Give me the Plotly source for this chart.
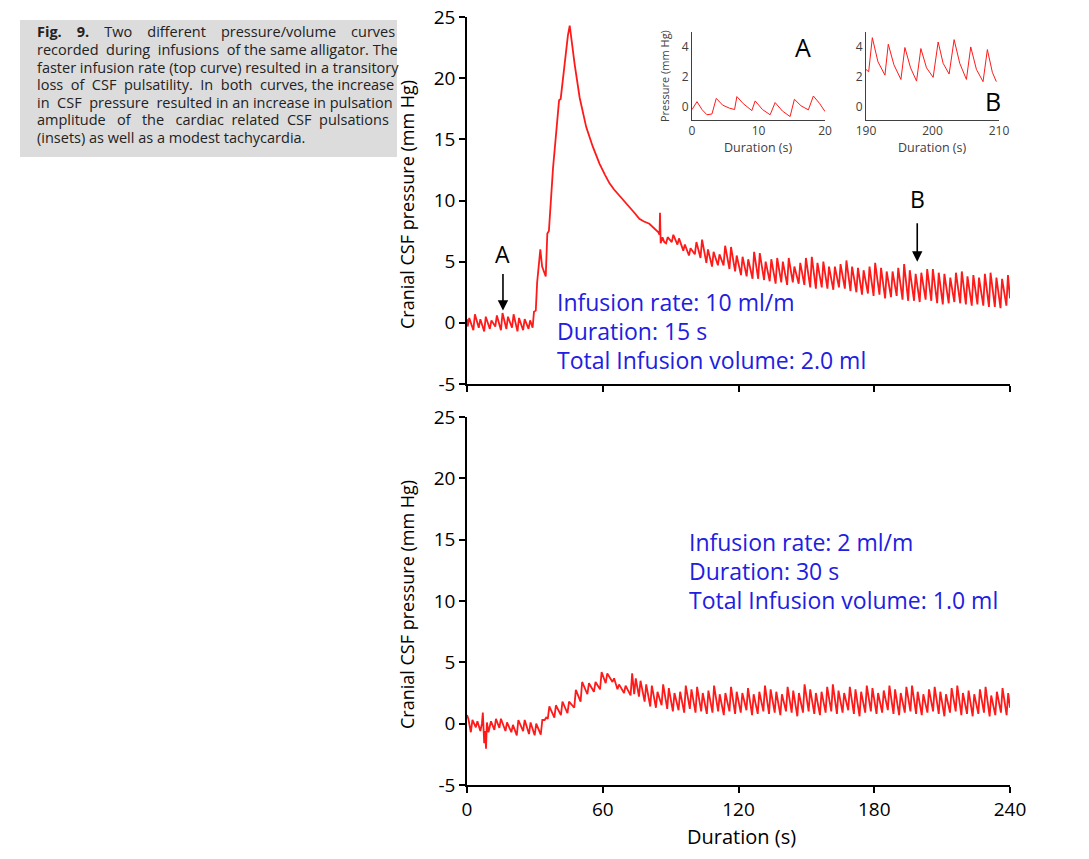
import plotly.graph_objects as go

W, H = 1089, 859
OFF = 8  # page body margin of the browser
FONT = "Open Sans"
RED = "#ff1a1a"
BLUE = "#2020e0"
NB = "\u00a0"

# ---------------- data: top curve (fast infusion) ----------------
top_start_t = [0.0]
top_start_p = [0.3]
# early pulsations (beat onset time, trough, peak)
top_beats1_t = [0.3, 2.8, 5.2, 7.6, 10.1, 12.5, 15.0, 17.4, 19.9, 22.3, 24.8, 27.2]
top_beats1_lo = [-0.3, -0.6, -0.4, -0.7, -0.5, -0.3, -0.6, -0.5, -0.4, -0.7, -0.6, -0.5]
top_beats1_hi = [0.4, 0.7, 0.3, 0.5, 0.2, 0.6, 0.8, 0.5, 0.7, 0.4, 0.3, 0.2]
# infusion ramp, peak and decay without pulsatility
top_ramp_t = [29.0, 29.6, 30.4, 31.0, 32.4, 33.2, 34.8, 35.5, 36.2, 38.0, 40.7, 41.4, 43.0, 44.6,
              45.4, 46.3, 47.6, 49.8, 52.7, 55.6, 58.6, 61.0, 63.0, 65.0, 67.4, 69.0, 70.2, 71.8,
              73.5, 76.2, 78.0, 80.6, 82.2, 83.5, 84.6, 85.1, 85.3, 85.6, 86.4, 87.2]
top_ramp_p = [-0.4, 0.9, 1.0, 3.3, 6.0, 4.6, 3.8, 7.3, 7.5, 12.6, 18.2, 18.3, 21.0, 23.5,
              24.3, 22.8, 21.1, 18.4, 16.0, 14.4, 13.0, 12.1, 11.4, 10.9, 10.4, 10.1, 9.8, 9.5,
              9.1, 8.5, 8.3, 8.1, 7.8, 7.6, 7.4, 7.2, 9.0, 6.5, 7.0, 6.6]
# returning pulsations
top_beats2_t = [88.0, 90.5, 93.0, 95.6, 98.1, 100.7, 103.2, 105.8, 108.3, 110.9, 113.4, 116.0,
                118.5, 121.1, 123.6, 126.2, 128.7, 131.3, 133.8, 136.4, 138.9, 141.5, 144.0,
                146.6, 149.1, 151.7, 154.2, 156.8, 159.3, 161.9, 164.4, 167.0, 169.5, 172.1,
                174.6, 177.2, 179.7, 182.3, 184.8, 187.4, 189.9, 192.5, 195.0, 197.6, 200.1,
                202.7, 205.2, 207.8, 210.3, 212.9, 215.4, 218.0, 220.5, 223.1, 225.6, 228.2,
                230.7, 233.3, 235.8, 238.4]
top_beats2_lo = [6.5, 6.6, 6.4, 5.9, 5.5, 5.6, 5.3, 4.9, 4.6, 4.7, 4.7, 4.4, 4.2, 3.9, 3.8, 3.6,
                 3.6, 3.5, 3.4, 3.2, 3.3, 3.1, 3.3, 3.2, 3.1, 2.9, 2.8, 2.9, 2.8, 2.7, 2.9, 2.8,
                 2.6, 2.5, 2.3, 2.4, 2.2, 2.3, 2.0, 2.1, 2.2, 1.9, 1.8, 1.8, 1.7, 1.9, 1.8, 1.6,
                 1.5, 1.6, 1.7, 1.6, 1.5, 1.4, 1.5, 1.4, 1.3, 1.3, 1.2, 1.4]
top_beats2_hi = [7.0, 7.2, 6.9, 6.4, 6.1, 6.6, 6.8, 6.0, 5.8, 5.6, 6.3, 6.2, 5.5, 5.4, 5.2, 5.8,
                 5.7, 5.0, 5.2, 5.3, 5.0, 5.3, 4.6, 4.9, 5.3, 5.4, 4.9, 5.0, 4.6, 4.6, 4.8, 5.1,
                 4.6, 4.5, 4.3, 4.6, 4.9, 4.5, 4.2, 4.2, 4.5, 4.8, 4.3, 4.0, 4.1, 4.4, 4.4, 4.1,
                 4.0, 3.7, 4.1, 4.2, 3.8, 3.9, 3.7, 4.0, 4.1, 3.7, 3.6, 3.9]
top_end_t = [240.0]
top_end_p = [2.0]

# ---------------- data: bottom curve (slow infusion) ----------------
bot_start_t = [0.0, 0.6, 1.7, 2.4, 3.9, 4.6, 5.9, 6.6, 7.0, 7.6, 8.0, 8.4, 8.8, 9.5, 10.6]
bot_start_p = [0.7, 0.4, -0.7, 0.3, -0.3, 0.2, -0.6, 0.0, 0.9, -1.6, -0.6, -2.05, 0.1, -0.7, 0.2]
bot_beats1_t = [12.1, 14.3, 17.0, 19.6, 22.0, 24.8, 27.4, 29.9, 32.6]
bot_beats1_lo = [-0.5, -0.35, -0.6, -0.7, -0.95, -0.6, -0.85, -0.95, -0.9]
bot_beats1_hi = [0.4, 0.4, 0.1, -0.1, 0.3, 0.3, 0.1, 0.0, 0.3]
bot_mid_t = [34.3, 35.0]
bot_mid_p = [0.3, 0.5]
bot_beats2_t = [35.7, 38.6, 41.5, 44.4, 47.4, 50.2, 53.2, 56.1, 58.8, 61.3, 64.3, 66.5, 69.4,
                72.3, 73.9, 76.0, 78.5, 81.0, 83.5, 86.0, 88.5, 91.0, 93.5, 96.0, 98.5, 101.0,
                103.5, 106.0, 108.5, 111.0, 113.5, 116.0, 118.5, 121.0, 123.5, 126.0, 128.5,
                131.0, 133.5, 136.0, 138.5, 141.0, 143.5, 146.0, 148.5, 151.0, 153.5, 156.0,
                158.5, 161.0, 163.5, 166.0, 168.5, 171.0, 173.5, 176.0, 178.5, 181.0, 183.5,
                186.0, 188.5, 191.0, 193.5, 196.0, 198.5, 201.0, 203.5, 206.0, 208.5, 211.0,
                213.5, 216.0, 218.5, 221.0, 223.5, 226.0, 228.5, 231.0, 233.5, 236.0, 238.5]
bot_beats2_lo = [0.4, 0.5, 0.7, 0.85, 1.3, 1.8, 2.4, 2.6, 2.8, 3.3, 3.4, 2.8, 2.5, 2.3, 2.4, 2.2,
                 1.8, 1.4, 1.3, 1.5, 1.2, 1.0, 1.1, 0.9, 1.2, 0.9, 1.0, 0.8, 0.9, 1.0, 0.7, 1.0,
                 0.8, 0.9, 1.1, 0.7, 0.8, 1.0, 0.8, 0.9, 0.7, 1.0, 0.9, 0.6, 0.9, 1.0, 0.8, 0.7,
                 0.9, 1.0, 0.8, 0.9, 1.1, 0.8, 0.6, 0.9, 1.0, 0.8, 0.9, 1.1, 0.8, 0.7, 0.9, 1.0,
                 0.8, 0.7, 0.9, 1.0, 0.8, 0.6, 0.9, 1.0, 0.7, 0.8, 0.6, 0.8, 0.9, 0.6, 0.7, 0.9, 0.7]
bot_beats2_hi = [1.4, 1.5, 1.8, 1.8, 2.75, 3.4, 3.3, 3.4, 4.2, 4.1, 3.7, 3.2, 3.1, 4.1, 3.7, 3.5,
                 3.2, 3.1, 2.6, 3.2, 2.9, 2.5, 2.6, 3.1, 2.8, 3.0, 2.5, 2.7, 3.1, 2.4, 2.5, 3.0,
                 2.6, 2.5, 2.9, 2.4, 2.6, 3.1, 2.8, 2.6, 2.4, 3.0, 2.7, 2.5, 3.2, 2.8, 2.5, 2.6,
                 3.0, 3.2, 2.7, 2.5, 3.0, 2.8, 2.6, 3.1, 2.9, 2.5, 2.7, 3.1, 2.8, 2.5, 3.0, 3.1,
                 2.6, 2.4, 2.8, 3.0, 2.6, 2.4, 2.9, 3.1, 2.5, 2.7, 2.4, 2.8, 3.0, 2.3, 2.6, 2.9, 2.5]
bot_end_t = [240.0]
bot_end_p = [1.3]

# ---------------- data: insets ----------------
insA_t = [0.0, 0.75, 1.5, 2.25, 3.0, 3.65, 4.6, 5.6, 6.4, 6.75, 7.7, 9.0, 9.5, 10.6, 11.75,
          12.5, 13.6, 14.75, 15.4, 16.4, 17.5, 18.25, 19.2, 20.0]
insA_p = [-0.2, 0.33, -0.2, -0.55, -0.5, 0.55, 0.1, -0.1, -0.2, 0.67, 0.2, -0.27, 0.38, -0.2,
          -0.55, 0.27, -0.3, -0.67, 0.49, 0.05, -0.22, 0.71, 0.2, -0.33]
insB_t = [190.0, 190.4, 190.95, 191.8, 192.85, 193.35, 194.2, 195.25, 195.85, 196.7, 197.6,
          198.25, 199.1, 200.1, 200.85, 201.6, 202.5, 203.25, 204.1, 205.1, 205.75, 206.6,
          207.6, 208.25, 209.0, 209.6]
insB_p = [2.49, 2.33, 4.62, 3.0, 2.11, 4.18, 2.8, 1.82, 3.96, 2.6, 1.71, 3.89, 2.6, 1.96, 4.33,
          2.9, 2.18, 4.49, 2.9, 1.82, 4.0, 2.5, 1.67, 3.82, 2.3, 1.67]

y_ticks = [-5, 0, 5, 10, 15, 20, 25]
y_ticktext = ["-5", "0", "5", "10", "15", "20", "25"]
x_ticks = [0, 60, 120, 180, 240]
inset_y_ticks = [0, 2, 4]
insA_x_ticks = [0, 10, 20]
insB_x_ticks = [190, 200, 210]

caption_lines = [
    "<b>Fig. 9.</b> Two different pressure/volume curves",
    "recorded during infusions of the same alligator. The",
    "faster infusion rate (top curve) resulted in a transitory",
    "loss of CSF pulsatility. In both curves, the increase",
    "in CSF pressure resulted in an increase in pulsation",
    "amplitude of the cardiac related CSF pulsations",
    "(insets) as well as a modest tachycardia.",
]
# extra non-breaking spaces spread over word gaps to imitate the justified caption
caption_extra = [15, 3, 0, 6, 3, 9, 0]
top_notes = ["Infusion rate: 10 ml/m", "Duration: 15 s", "Total Infusion volume: 2.0 ml"]
bot_notes = ["Infusion rate: 2 ml/m", "Duration: 30 s", "Total Infusion volume: 1.0 ml"]


def beats_to_path(ts, lo, hi, rise=0.7):
    xs, ys = [], []
    for t0, a, b in zip(ts, lo, hi):
        xs += [t0, t0 + rise]
        ys += [a, b]
    return xs, ys


def assemble(parts):
    xs, ys = [], []
    for px_, py_ in parts:
        xs += list(px_)
        ys += list(py_)
    return xs, ys


def justify(line, extra):
    words = line.split(" ")
    gaps = len(words) - 1
    out = words[0]
    for g in range(gaps):
        n = extra // gaps + (1 if g < extra % gaps else 0)
        out += " " + NB * n + words[g + 1]
    return out


top_x, top_y = assemble([
    (top_start_t, top_start_p),
    beats_to_path(top_beats1_t, top_beats1_lo, top_beats1_hi),
    (top_ramp_t, top_ramp_p),
    beats_to_path(top_beats2_t, top_beats2_lo, top_beats2_hi),
    (top_end_t, top_end_p),
])
bot_x, bot_y = assemble([
    (bot_start_t, bot_start_p),
    beats_to_path(bot_beats1_t, bot_beats1_lo, bot_beats1_hi),
    (bot_mid_t, bot_mid_p),
    beats_to_path(bot_beats2_t, bot_beats2_lo, bot_beats2_hi),
    (bot_end_t, bot_end_p),
])


def fx(p):
    return (p - OFF) / W


def fy(p):
    return 1 - (p - OFF) / H


fig = go.Figure()
fig.add_trace(go.Scatter(x=top_x, y=top_y, mode="lines", line=dict(color=RED, width=1.8),
                         xaxis="x", yaxis="y", showlegend=False, hoverinfo="skip"))
fig.add_trace(go.Scatter(x=bot_x, y=bot_y, mode="lines", line=dict(color=RED, width=1.8),
                         xaxis="x2", yaxis="y2", showlegend=False, hoverinfo="skip"))
fig.add_trace(go.Scatter(x=insA_t, y=insA_p, mode="lines", line=dict(color=RED, width=1),
                         xaxis="x3", yaxis="y3", showlegend=False, hoverinfo="skip"))
fig.add_trace(go.Scatter(x=insB_t, y=insB_p, mode="lines", line=dict(color=RED, width=1),
                         xaxis="x4", yaxis="y4", showlegend=False, hoverinfo="skip"))

main_dom_x = [fx(467), fx(1010)]
tickfont = dict(family=FONT, size=19, color="black")
common_y = dict(range=[-5, 25], tickvals=y_ticks, ticktext=y_ticktext, showgrid=False,
                zeroline=False, showline=True, linecolor="black", linewidth=1.5,
                ticks="outside", ticklen=6, tickwidth=1.5, tickcolor="black", tickfont=tickfont,
                automargin=False, ticklabeloverflow="allow")
common_x = dict(range=[0, 240], tickvals=x_ticks, showgrid=False, zeroline=False,
                showline=True, linecolor="black", linewidth=1.5, ticks="outside",
                ticklen=6, tickwidth=1.5, tickcolor="black", tickfont=tickfont,
                automargin=False, ticklabeloverflow="allow")

inset_font = dict(family=FONT, size=12, color="#404040")
inset_y = dict(range=[-0.9, 5.0], tickvals=inset_y_ticks, showgrid=False, zeroline=False,
               showline=True, linecolor="#404040", linewidth=1, ticks="", tickfont=inset_font,
               automargin=False, ticklabeloverflow="allow")
inset_x = dict(showgrid=False, zeroline=False, showline=True, linecolor="#404040",
               linewidth=1, ticks="", tickfont=inset_font, automargin=False,
               ticklabeloverflow="allow")

fig.update_layout(
    width=W, height=H, autosize=False,
    margin=dict(l=0, r=0, t=0, b=0, pad=0, autoexpand=False),
    paper_bgcolor="white", plot_bgcolor="white",
    font=dict(family=FONT, color="black"),
    xaxis=dict(domain=main_dom_x, anchor="y", showticklabels=False, **common_x),
    yaxis=dict(domain=[fy(384), fy(17)], anchor="x", **common_y),
    xaxis2=dict(domain=main_dom_x, anchor="y2", **common_x),
    yaxis2=dict(domain=[fy(785), fy(417)], anchor="x2", **common_y),
    xaxis3=dict(domain=[fx(692), fx(825)], anchor="y3", range=[0, 20], tickvals=insA_x_ticks,
                **inset_x),
    yaxis3=dict(domain=[fy(120), fy(32)], anchor="x3", **inset_y),
    xaxis4=dict(domain=[fx(866), fx(999)], anchor="y4", range=[190, 210], tickvals=insB_x_ticks,
                **inset_x),
    yaxis4=dict(domain=[fy(120), fy(32)], anchor="x4", **inset_y),
)

ann = []


def note(x, y, text, size, color="black", xanchor="center", angle=0, xref="paper", yref="paper"):
    ann.append(dict(x=x, y=y, xref=xref, yref=yref, text=text, showarrow=False,
                    xanchor=xanchor, yanchor="middle", textangle=angle,
                    font=dict(family=FONT, size=size, color=color)))


# caption lines
for i, line in enumerate(caption_lines):
    note(fx(35), fy(32 + i * 17.6), justify(line, caption_extra[i]), 14.5, "#222222",
         xanchor="left")
# axis titles
for yc in (205, 605):
    note(fx(407), fy(yc), "Cranial CSF pressure (mm Hg)", 18, angle=-90)
note(fx(741), fy(836), "Duration (s)", 20)
# blue notes
for i, t in enumerate(top_notes):
    note(fx(555), fy(302 + i * 28.8), t, 23, BLUE, xanchor="left")
for i, t in enumerate(bot_notes):
    note(fx(687), fy(542 + i * 28.8), t, 23, BLUE, xanchor="left")
# arrows A and B on top chart
ann.append(dict(x=15.9, y=1.0, xref="x", yref="y", text="", showarrow=True, ax=0, ay=-38,
                arrowhead=2, arrowsize=1.3, arrowwidth=1.6, arrowcolor="black"))
note(15.9, 5.6, "A", 23, xref="x", yref="y")
ann.append(dict(x=199, y=5.0, xref="x", yref="y", text="", showarrow=True, ax=0, ay=-40,
                arrowhead=2, arrowsize=1.3, arrowwidth=1.6, arrowcolor="black"))
note(199, 10.1, "B", 23, xref="x", yref="y")
# inset labels
note(fx(803), fy(47), "A", 25)
note(fx(993), fy(101), "B", 25)
note(fx(664), fy(76), "Pressure (mm Hg)", 11, "#404040", angle=-90)
for xc in (758, 932):
    note(fx(xc), fy(147), "Duration (s)", 12.5, "#404040")
fig.update_layout(annotations=ann)

# caption background box and right-edge crop
fig.update_layout(shapes=[
    dict(type="rect", xref="paper", yref="paper", x0=fx(20), x1=fx(397), y0=fy(157), y1=fy(20),
         fillcolor="#dcdcdc", line=dict(width=0), layer="below"),
    dict(type="rect", xref="paper", yref="paper", x0=fx(1029), x1=1, y0=fy(825), y1=fy(790),
         fillcolor="white", line=dict(width=0), layer="above"),
])

fig.write_html("out.html")
